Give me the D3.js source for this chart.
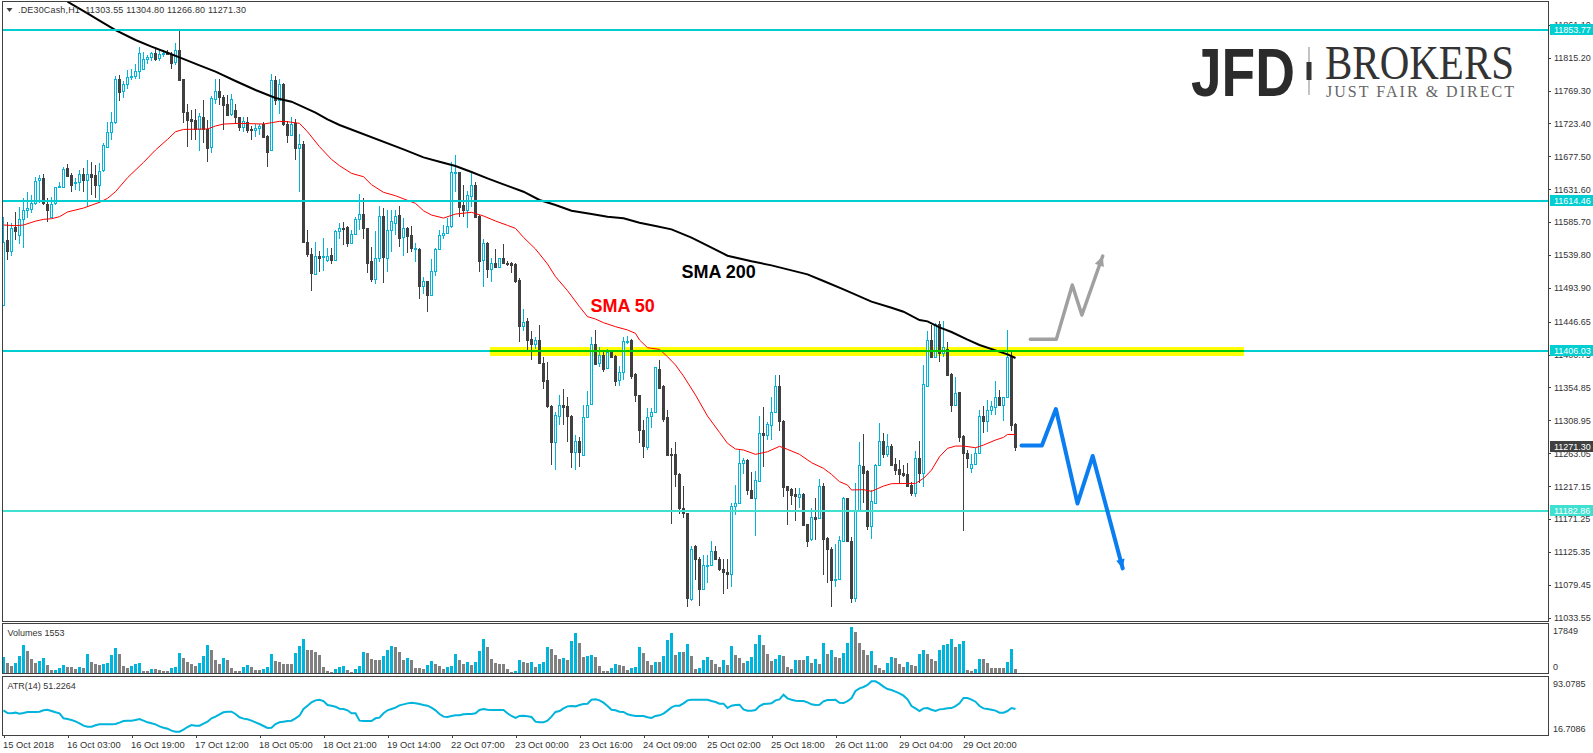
<!DOCTYPE html>
<html>
<head>
<meta charset="utf-8">
<title>DE30Cash H1</title>
<script src="https://d3js.org/d3.v7.min.js"></script>
<style>
html, body { margin: 0; padding: 0; background: #fff; }
svg { display: block; }
text { font-family: "Liberation Sans", Arial, sans-serif; font-size: 9px; fill: #333; }
.axis path, .axis line { stroke: #404040; shape-rendering: crispEdges; }
.date-axis text { font-size: 9.4px; }
</style>
</head>
<body>
<svg id="chart" width="1593" height="753"></svg>
<script>
var symbolTitle = '.DE30Cash,H1  11303.55 11304.80 11266.80 11271.30';

var opens = [
  11470,11561,11546,11579,11568,11590,11603,11604,11613,11644,
  11647,11611,11593,11612,11635,11635,11661,11651,11640,11641,
  11653,11644,11653,11651,11638,11658,11691,11711,11725,11786,
  11768,11779,11788,11790,11797,11800,11813,11816,11821,11814,
  11820,11822,11819,11809,11826,11785,11740,11729,11728,11716,
  11732,11715,11690,11758,11768,11760,11751,11736,11742,11732,
  11719,11726,11715,11714,11717,11723,11706,11686,11784,11756,
  11778,11723,11707,11724,11689,11695,11558,11541,11513,11539,
  11538,11533,11540,11533,11573,11578,11579,11557,11569,11590,
  11597,11577,11531,11506,11535,11594,11536,11575,11585,11595,
  11565,11577,11567,11548,11548,11496,11503,11484,11518,11548,
  11567,11570,11580,11654,11655,11609,11602,11622,11638,11594,
  11533,11557,11520,11528,11523,11535,11529,11528,11527,11505,
  11441,11447,11422,11415,11421,11389,11365,11329,11279,11315,
  11330,11329,11315,11265,11280,11260,11314,11332,11416,11389,
  11400,11382,11406,11399,11365,11377,11419,11421,11374,11344,
  11295,11272,11315,11321,11381,11357,11313,11262,11262,11234,
  11187,11179,11059,11134,11116,11074,11106,11107,11126,11116,
  11101,11098,11095,11190,11194,11249,11254,11212,11200,11225,
  11291,11289,11303,11321,11357,11308,11217,11213,11206,11202,
  11206,11164,11143,11174,11172,11217,11145,11130,11086,11088,
  11140,11200,11141,11061,11184,11245,11238,11162,11194,11247,
  11280,11262,11273,11248,11241,11235,11234,11219,11208,11257,
  11235,11357,11421,11398,11444,11403,11409,11374,11330,11348,
  11287,11263,11243,11248,11263,11315,11308,11323,11328,11341,
  11330,11341,11398,11303.55
];
var highs = [
  11593,11586,11584,11600,11607,11619,11628,11623,11649,11651,
  11653,11619,11620,11635,11642,11663,11667,11654,11647,11658,
  11661,11672,11669,11665,11668,11696,11726,11740,11789,11791,
  11782,11798,11800,11807,11830,11823,11819,11823,11830,11826,
  11826,11826,11823,11836,11853,11786,11751,11742,11744,11738,
  11756,11728,11761,11786,11786,11763,11763,11764,11751,11733,
  11733,11733,11720,11723,11723,11726,11707,11793,11789,11786,
  11780,11727,11732,11730,11709,11699,11575,11550,11558,11546,
  11563,11549,11550,11575,11584,11586,11580,11575,11593,11625,
  11619,11578,11551,11573,11608,11606,11603,11603,11603,11608,
  11591,11579,11580,11557,11549,11509,11504,11534,11549,11575,
  11582,11591,11670,11679,11656,11637,11629,11656,11642,11595,
  11562,11558,11535,11548,11536,11555,11532,11530,11528,11507,
  11464,11452,11433,11426,11442,11398,11391,11330,11321,11345,
  11353,11342,11317,11288,11286,11330,11350,11426,11435,11411,
  11405,11409,11407,11400,11385,11426,11427,11422,11375,11345,
  11310,11326,11326,11384,11393,11358,11323,11270,11279,11235,
  11217,11180,11134,11135,11118,11121,11121,11140,11134,11118,
  11116,11116,11194,11219,11267,11257,11255,11237,11238,11315,
  11327,11307,11341,11372,11372,11309,11218,11214,11214,11214,
  11207,11165,11186,11200,11227,11221,11146,11132,11136,11147,
  11202,11201,11146,11221,11279,11290,11240,11212,11248,11305,
  11291,11290,11276,11257,11254,11247,11249,11223,11266,11280,
  11386,11433,11442,11445,11448,11447,11418,11375,11369,11349,
  11288,11268,11262,11271,11323,11329,11337,11336,11364,11351,
  11342,11435,11405,11304.80
];
var lows = [
  11468,11533,11538,11561,11555,11549,11591,11598,11609,11612,
  11609,11586,11591,11609,11634,11633,11649,11627,11630,11629,
  11628,11607,11623,11619,11612,11656,11690,11700,11723,11754,
  11759,11772,11784,11786,11786,11798,11807,11810,11810,11810,
  11816,11819,11800,11805,11784,11724,11690,11700,11700,11685,
  11696,11670,11682,11751,11749,11714,11735,11734,11724,11713,
  11712,11710,11700,11705,11707,11704,11663,11685,11749,11737,
  11720,11696,11706,11673,11627,11558,11537,11489,11512,11516,
  11518,11530,11527,11532,11562,11554,11551,11556,11568,11575,
  11562,11514,11502,11499,11530,11501,11516,11544,11568,11551,
  11538,11542,11544,11530,11479,11485,11460,11482,11510,11547,
  11562,11569,11578,11627,11593,11593,11578,11607,11591,11516,
  11495,11507,11502,11522,11521,11528,11524,11514,11501,11419,
  11433,11407,11393,11408,11388,11353,11326,11247,11240,11302,
  11302,11279,11242,11240,11244,11259,11313,11330,11386,11384,
  11377,11382,11397,11357,11357,11365,11415,11367,11334,11278,
  11257,11268,11299,11319,11353,11307,11259,11164,11216,11178,
  11172,11049,11057,11086,11050,11073,11082,11106,11115,11099,
  11067,11074,11076,11177,11193,11234,11205,11199,11148,11223,
  11244,11282,11282,11319,11294,11202,11163,11191,11169,11186,
  11161,11132,11140,11142,11171,11093,11082,11049,11077,11086,
  11139,11139,11054,11056,11183,11193,11156,11143,11193,11246,
  11256,11258,11245,11233,11221,11230,11216,11203,11202,11222,
  11216,11355,11397,11397,11391,11397,11371,11321,11329,11279,
  11154,11243,11235,11247,11262,11291,11293,11316,11316,11329,
  11308,11340,11294,11266.80
];
var closes = [
  11558,11546,11578,11573,11590,11603,11606,11612,11643,11647,
  11612,11602,11611,11634,11636,11660,11650,11637,11642,11653,
  11644,11653,11649,11637,11657,11693,11711,11726,11785,11767,
  11779,11788,11790,11796,11821,11813,11816,11821,11813,11820,
  11822,11821,11808,11826,11784,11740,11728,11727,11715,11734,
  11715,11689,11759,11768,11760,11749,11735,11757,11732,11719,
  11727,11714,11714,11717,11720,11705,11684,11784,11756,11778,
  11723,11707,11723,11689,11695,11558,11541,11514,11538,11536,
  11539,11539,11533,11573,11578,11577,11557,11569,11590,11597,
  11578,11529,11506,11536,11594,11537,11575,11587,11594,11564,
  11577,11566,11549,11549,11496,11503,11484,11518,11548,11567,
  11570,11580,11655,11655,11607,11602,11623,11638,11593,11532,
  11557,11520,11528,11523,11535,11529,11527,11526,11504,11441,
  11446,11421,11415,11421,11389,11364,11329,11279,11316,11331,
  11328,11315,11265,11280,11265,11314,11331,11416,11388,11400,
  11381,11405,11398,11364,11377,11420,11420,11371,11344,11295,
  11273,11314,11320,11383,11354,11311,11261,11261,11234,11186,
  11179,11061,11130,11116,11074,11107,11107,11126,11116,11101,
  11098,11094,11190,11194,11249,11254,11212,11200,11226,11292,
  11288,11304,11321,11357,11308,11216,11212,11205,11203,11206,
  11163,11141,11174,11171,11217,11143,11130,11086,11088,11142,
  11200,11140,11061,11184,11246,11236,11162,11196,11246,11280,
  11262,11273,11247,11240,11234,11233,11217,11208,11256,11235,
  11360,11421,11398,11444,11403,11411,11372,11330,11347,11286,
  11263,11256,11248,11263,11315,11308,11323,11329,11341,11330,
  11341,11398,11302,11271.30
];

var volumes = [
  6208,3751,2716,3880,6596,10865,8536,5432,3751,4656,
  5820,3104,1035,1164,2069,3104,2328,2328,1552,2328,
  1940,7372,4268,3492,2975,3363,3880,6984,9700,7372,
  2716,1940,2716,3492,3880,776,776,1552,1552,1035,
  776,776,1940,2328,7760,5820,4268,3492,2716,3880,
  6596,10865,8924,5044,3492,5820,5044,1940,776,776,
  2328,3104,2328,1164,1164,1552,2328,7372,4656,4268,
  3492,3492,3492,7760,10477,13193,8924,8924,8148,6984,
  2328,776,259,1552,2328,2716,1164,388,1552,2716,
  8148,7760,5432,5044,5044,6596,8924,10477,10088,8148,
  5044,5820,5044,1940,1940,1552,3104,4656,3492,2716,
  1552,2328,2716,7372,5044,3492,4268,3104,4268,8536,
  13193,10088,5432,3880,3492,3492,1552,388,776,5044,
  4268,3880,4268,2328,3492,4268,10088,9312,6984,5432,
  5820,5044,12417,15521,11641,6208,6596,6855,6208,2716,
  776,776,1940,3492,3104,2716,1164,1940,2328,10088,
  7760,4656,3104,4268,4268,6596,12805,15521,6984,8148,
  8148,11253,6596,1552,1940,5044,6208,5044,3492,2328,
  5044,3104,10477,6984,5820,3880,4656,6208,11253,14745,
  10865,7372,4656,5432,6984,6596,2328,1552,5044,5044,
  5044,6596,3880,5432,3492,11641,7372,8924,6208,5820,
  7760,11641,17849,15909,11641,8924,6984,8536,3104,1940,
  1164,3880,6208,5820,3492,2328,4268,3104,2716,7372,
  8924,7372,5432,4656,8924,10865,11253,13193,10088,11253,
  12417,1164,776,1552,5432,5432,3880,1940,1940,1940,
  1940,4268,9312,1553
];

var atrValues = [
  49.2,45.2,44.7,45.7,44.2,45.2,46.7,46.7,46.7,47.1,
  49.2,50.1,48.1,46.2,44.7,37.2,36.2,34.7,32.7,29.7,
  26.2,24.7,24.7,26.7,28.2,28.2,28.2,28.2,28.7,30.7,
  33.2,33.7,33.7,34.7,36.2,33.7,31.2,29.7,28.2,25.2,
  23.2,21.7,18.7,17.2,17.2,20.2,24.2,27.2,26.2,26.2,
  29.2,32.2,37.2,39.7,43.2,46.2,47.1,47.1,43.7,38.7,
  36.7,35.7,33.7,31.2,28.7,25.7,22.7,23.2,28.7,31.2,
  32.2,33.2,33.7,37.2,41.2,51.1,56.1,61.1,64.1,65.1,
  63.1,57.1,56.1,54.6,51.6,51.1,49.2,44.7,44.7,33.7,
  33.2,33.2,33.2,37.2,38.2,44.7,49.2,51.1,53.1,56.6,
  58.1,59.6,60.6,59.6,58.6,57.1,56.1,53.1,49.2,43.7,
  39.7,39.2,40.7,41.7,41.7,43.2,43.7,43.7,44.7,49.6,
  51.1,50.1,49.6,49.6,49.6,49.6,44.7,40.7,37.7,40.7,
  41.2,40.2,39.2,32.2,31.2,31.2,33.7,39.7,46.7,48.1,
  52.1,55.1,55.6,55.1,57.1,58.6,59.1,65.1,65.6,64.1,
  60.6,55.6,50.1,49.2,47.1,46.7,43.2,41.7,40.7,40.7,
  40.7,38.7,37.7,40.7,41.7,44.2,48.7,53.6,56.1,56.1,
  59.6,64.1,65.1,65.1,65.1,65.1,65.1,63.1,61.6,59.1,
  59.1,52.6,56.1,57.1,57.6,50.6,48.7,48.7,49.6,55.6,
  58.6,59.1,59.6,64.1,65.6,72.6,67.1,65.1,63.6,63.1,
  63.1,61.1,58.1,57.1,57.6,62.6,64.6,64.6,65.1,60.6,
  60.1,63.1,67.1,78.1,82.1,84.1,87.1,92.6,92.6,89.1,
  84.6,81.1,79.6,77.1,74.6,71.1,65.6,55.6,52.1,48.1,
  52.1,52.6,50.1,48.1,50.6,51.1,52.1,52.6,55.6,59.6,
  67.6,67.6,65.1,62.1,55.6,52.1,51.1,50.1,48.7,45.7,
  45.7,48.1,52.6,51.2264
];

var sma50Bars = [0,3,5,8,10,12,14,16,20,24,26,28,31,35,38,41,43,45,50,51,53,55,59,65,67,69,71,74,76,79,82,84,87,90,92,95,98,101,103,105,107,110,113,117,120,123,126,128,130,133,136,138,141,144,146,148,150,153,156,158,159,161,162,164,166,168,170,173,176,179,181,183,185,188,191,194,196,199,202,205,207,209,211,212,215,217,220,222,228,230,232,234,236,238,240,243,245,248,250,251,253];
var sma50Values = [11581.6,11580.7,11581.6,11587,11589.5,11590.4,11593.2,11599.8,11605.3,11613.3,11618.8,11628.1,11647.6,11669,11686.3,11701.1,11711.8,11715,11715.6,11715.6,11719.8,11722.5,11723.5,11722.5,11724.4,11726.3,11725.8,11723.5,11711.8,11690.9,11673.2,11664.4,11653.7,11649,11637.9,11627.2,11622.5,11616,11611.8,11601.5,11595.5,11591.3,11596.9,11599.3,11594.2,11587.2,11581.1,11576.9,11564.4,11548.1,11527.2,11509.5,11490,11467.6,11453.7,11450.4,11445.3,11439.7,11435.1,11430.4,11421.1,11410.4,11409.5,11408,11397.8,11386.2,11370.8,11344.3,11315,11292.2,11276.9,11269,11267.6,11261.5,11265.2,11272.7,11268.5,11261.5,11249.9,11242,11233.6,11223.4,11218.7,11211.8,11212.2,11209.9,11217.3,11220.6,11221,11228,11239.6,11258.2,11269.9,11273.1,11273.1,11270.8,11274.5,11281.5,11285.2,11289.4,11289];

var sma200Bars = [16,21,24,28,33,37,41,44,49,53,58,63,68,72,78,81,84,100,105,109,113,117,121,125,130,134,138,142,147,151,155,159,163,167,172,177,181,187,192,201,205,210,217,222,225,229,231,234,237,241,244,248,251,253];
var sma200Values = [11893.3,11877,11866.8,11853.7,11839.8,11830.5,11822.1,11815.6,11804.4,11795.6,11782.6,11770,11758.8,11753.7,11738.4,11729.1,11721.2,11687.2,11676,11670,11663.9,11655.6,11646.7,11638.4,11628.1,11616.5,11609.5,11601.5,11596.9,11593.2,11590.9,11584.8,11580.2,11575.5,11563.9,11550,11538.8,11530.9,11525.3,11512.7,11503.4,11491.8,11474.6,11466.2,11460.6,11449,11447.1,11438.8,11432.3,11421.6,11414.1,11406.7,11401.1,11396];

var priceTicks = [11861.10,11815.20,11769.30,11723.40,11677.50,11631.60,11585.70,11539.80,11493.90,11446.65,11400.75,11354.85,11308.95,11263.05,11217.15,11171.25,11125.35,11079.45,11033.55];
var levels = [11853.77,11614.46,11406.03,11182.86];
var levelColors = ['#00ced1','#00ced1','#00ced1','#40e0d0'];
var lastPrice = 11271.30;

var dateTickBars = [0,16,32,48,64,80,96,112,128,144,160,176,192,208,224,240];
var dateLabels = ['15 Oct 2018','16 Oct 03:00','16 Oct 19:00','17 Oct 12:00','18 Oct 05:00','18 Oct 21:00','19 Oct 14:00','22 Oct 07:00','23 Oct 00:00','23 Oct 16:00','24 Oct 09:00','25 Oct 02:00','25 Oct 18:00','26 Oct 11:00','29 Oct 04:00','29 Oct 20:00'];

// hand drawn scenario arrows, in bars and prices
var grayArrowBars = [256.7,263.2,267.2,269.6,274.8];
var grayArrowPrices = [11422,11422,11497.9,11456,11538.3];
var blueArrowBars = [254.5,259.6,263.1,268.5,272.3,279.8];
var blueArrowPrices = [11274,11274,11324.8,11193,11259.2,11102.4];

// highlighted zone around the 11406 level
var zoneBars = [121.6,310.1];
var zonePrices = [11411.3,11398.8];

var candleUp = '#00b4dc', candleDown = '#404040';

var svg = d3.select('#chart');

var x = d3.scaleLinear().domain([0, 253]).range([3.5, 1015.5]);
var y = d3.scaleLinear().domain([11853.77, 11033.55]).range([30, 617.7]);
var yVol = d3.scaleLinear().domain([0, 17849]).range([673, 627]);
var yAtr = d3.scaleLinear().domain([16.7086, 93.0785]).range([732, 681]);

var panelRight = 1548;

svg.append('defs').append('clipPath').attr('id', 'main-clip')
    .append('rect').attr('x', 3).attr('y', 2).attr('width', panelRight - 3).attr('height', 619);

var main = svg.append('g').attr('clip-path', 'url(#main-clip)');

// yellow zone sits behind the candles
main.append('rect')
    .attr('x', x(zoneBars[0])).attr('width', x(zoneBars[1]) - x(zoneBars[0]))
    .attr('y', y(zonePrices[0])).attr('height', y(zonePrices[1]) - y(zonePrices[0]))
    .attr('fill', '#ffff00');

var bars = d3.range(opens.length);

function pxTop(i) { return Math.round(y(Math.max(opens[i], closes[i]))); }
function pxBottom(i) { return Math.round(y(Math.min(opens[i], closes[i]))); }

main.append('g').selectAll('rect')
    .data(bars)
    .join('rect')
    .attr('x', function(i) { return x(i) - 0.5; })
    .attr('width', 1)
    .attr('y', function(i) { return Math.round(y(highs[i])); })
    .attr('height', function(i) { return Math.max(1, Math.round(y(lows[i])) - Math.round(y(highs[i]))); })
    .attr('fill', function(i) { return closes[i] >= opens[i] ? candleUp : candleDown; });

main.append('g').selectAll('rect')
    .data(bars)
    .join('rect')
    .attr('x', function(i) { return x(i) - 1; })
    .attr('width', 2)
    .attr('y', function(i) { return pxTop(i) + 0.5; })
    .attr('height', function(i) { return Math.max(1, pxBottom(i) - pxTop(i)); })
    .attr('fill', function(i) { return closes[i] >= opens[i] ? '#fff' : candleDown; })
    .attr('stroke', function(i) { return closes[i] >= opens[i] ? candleUp : candleDown; })
    .attr('stroke-width', 1);

var smaLine = d3.line()
    .x(function(d) { return x(d[0]); })
    .y(function(d) { return y(d[1]); });

main.append('path')
    .attr('d', smaLine(d3.zip(sma50Bars, sma50Values)))
    .attr('fill', 'none').attr('stroke', '#ff0000').attr('stroke-width', 1);

main.append('path')
    .attr('d', smaLine(d3.zip(sma200Bars, sma200Values)))
    .attr('fill', 'none').attr('stroke', '#000').attr('stroke-width', 2);

// level lines go over the candles
main.append('g').selectAll('rect')
    .data(levels)
    .join('rect')
    .attr('x', 3).attr('width', panelRight - 3)
    .attr('y', function(d) { return Math.round(y(d)) - 1; })
    .attr('height', 2)
    .attr('fill', function(d, i) { return levelColors[i]; });

main.append('rect')
    .attr('x', x(zoneBars[0])).attr('width', x(zoneBars[1]) - x(zoneBars[0]))
    .attr('y', Math.round(y(levels[2])) - 1).attr('height', 2)
    .attr('fill', '#00c800');

function drawArrow(barsList, prices, color, width, headLen) {
    var pts = d3.zip(barsList, prices);
    main.append('path')
        .attr('d', smaLine(pts))
        .attr('fill', 'none').attr('stroke', color).attr('stroke-width', width)
        .attr('stroke-linejoin', 'round').attr('stroke-linecap', 'round');
    var a = pts[pts.length - 2], b = pts[pts.length - 1];
    var ang = Math.atan2(y(b[1]) - y(a[1]), x(b[0]) - x(a[0]));
    var tip = [x(b[0]), y(b[1])];
    var head = [-0.45, 0.45].map(function(off) {
        return [tip[0] - headLen * Math.cos(ang + off), tip[1] - headLen * Math.sin(ang + off)];
    });
    main.append('path')
        .attr('d', 'M' + tip + 'L' + head[0] + 'L' + head[1] + 'Z')
        .attr('fill', color);
}
drawArrow(grayArrowBars, grayArrowPrices, '#a0a0a0', 3.5, 11);
drawArrow(blueArrowBars, blueArrowPrices, '#0a7ef0', 4, 10);

main.append('text').attr('x', 590.5).attr('y', 311.5)
    .style('font-size', '18px').style('font-weight', 'bold').style('fill', '#ff0000')
    .text('SMA 50');
main.append('text').attr('x', 681.5).attr('y', 277.5)
    .style('font-size', '18px').style('font-weight', 'bold').style('fill', '#000')
    .text('SMA 200');

// logo
var logo = svg.append('g');
logo.append('text').attr('x', 1191).attr('y', 95.5)
    .attr('textLength', 104).attr('lengthAdjust', 'spacingAndGlyphs')
    .style('font-size', '68px').style('font-weight', 'bold').style('fill', '#2b2b2b')
    .text('JFD');
logo.append('rect').attr('x', 1308.5).attr('y', 47).attr('width', 1).attr('height', 48).attr('fill', '#8a8a8a');
logo.append('rect').attr('x', 1306.5).attr('y', 62).attr('width', 5).attr('height', 18).attr('fill', '#333');
logo.append('text').attr('x', 1325).attr('y', 79)
    .attr('textLength', 189).attr('lengthAdjust', 'spacingAndGlyphs')
    .style('font-family', '"Liberation Serif", serif').style('font-size', '48px').style('fill', '#333')
    .text('BROKERS');
logo.append('text').attr('x', 1326).attr('y', 96.5)
    .attr('textLength', 188).attr('lengthAdjust', 'spacing')
    .style('font-family', '"Liberation Serif", serif').style('font-size', '16px').style('fill', '#666')
    .text('JUST FAIR & DIRECT');

// volume panel
svg.append('g').selectAll('rect')
    .data(volumes)
    .join('rect')
    .attr('x', function(d, i) { return x(i) - 1.5; })
    .attr('width', 3)
    .attr('y', function(d) { return Math.round(yVol(d)); })
    .attr('height', function(d) { return 673.5 - Math.round(yVol(d)); })
    .attr('fill', function(d, i) { return i === 0 || d > volumes[i - 1] ? '#00b4dc' : '#808080'; });

// atr panel
svg.append('path')
    .attr('d', d3.line()
        .x(function(d, i) { return x(i); })
        .y(function(d) { return yAtr(d); })(atrValues))
    .attr('fill', 'none').attr('stroke', '#00b4dc').attr('stroke-width', 2);

// panel frames
var frames = svg.append('g').attr('fill', 'none').attr('stroke', '#404040').attr('shape-rendering', 'crispEdges');
[[1.5, 621], [623.5, 673.5], [676.5, 735]].forEach(function(f) {
    frames.append('rect')
        .attr('x', 2.5).attr('y', f[0])
        .attr('width', panelRight - 2.5).attr('height', f[1] - f[0]);
});

// price axis
svg.append('g')
    .attr('class', 'axis')
    .attr('transform', 'translate(' + panelRight + ',0)')
    .call(d3.axisRight(y).tickValues(priceTicks).tickSize(3).tickPadding(3)
        .tickFormat(function(d) { return d.toFixed(2); }))
    .call(function(g) { g.select('.domain').remove(); });

// date axis
svg.append('g')
    .attr('class', 'axis date-axis')
    .attr('transform', 'translate(0,735)')
    .call(d3.axisBottom(x).tickValues(dateTickBars).tickSize(3).tickPadding(3)
        .tickFormat(function(d, i) { return dateLabels[i]; }))
    .call(function(g) {
        g.select('.domain').remove();
        g.selectAll('text').attr('text-anchor', 'start').attr('x', -1);
    });

// level and last price labels on the axis
function axisLabel(value, color) {
    var yp = Math.round(y(value));
    svg.append('rect').attr('x', 1550).attr('y', yp - 6).attr('width', 43).attr('height', 11).attr('fill', color);
    svg.append('text').attr('x', 1554).attr('y', yp + 3).style('fill', '#fff').text(value.toFixed(2));
}
levels.forEach(function(d, i) { axisLabel(d, levelColors[i]); });
axisLabel(lastPrice, '#404040');

// small panel scale labels
[[17849, 631.5], [0, 667.5], [93.0785, 684.5], [16.7086, 729.5]].forEach(function(d) {
    svg.append('text').attr('x', 1553).attr('y', d[1]).attr('dy', '0.32em').text(d[0]);
});

// titles
svg.append('path').attr('d', 'M6.5 8 L12.5 8 L9.5 12 Z').attr('fill', '#404040');
svg.append('text').attr('x', 18).attr('y', 13).attr('textLength', 228).style('white-space', 'pre').text(symbolTitle);
svg.append('text').attr('x', 7.5).attr('y', 636).text('Volumes ' + volumes[volumes.length - 1]);
svg.append('text').attr('x', 7.5).attr('y', 689).text('ATR(14) ' + atrValues[atrValues.length - 1]);
</script>
</body>
</html>
